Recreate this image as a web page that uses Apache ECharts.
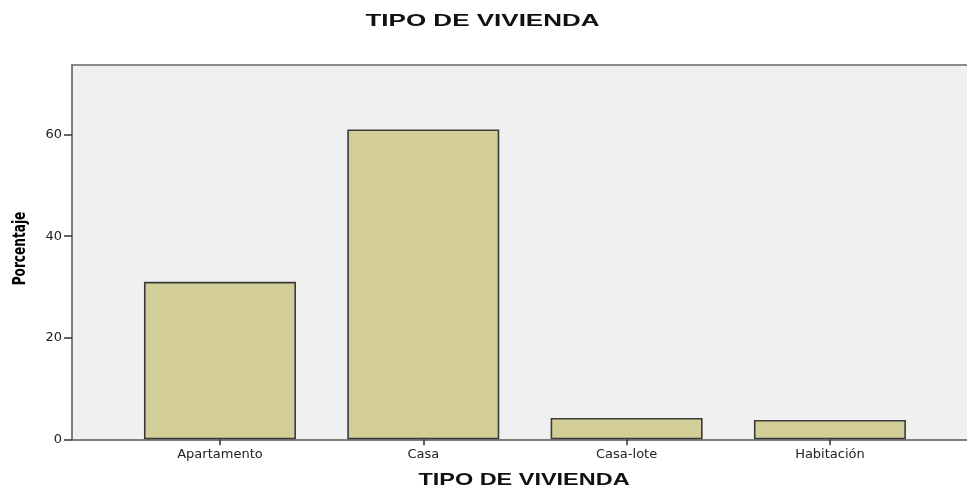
<!DOCTYPE html>
<html>
<head>
<meta charset="utf-8">
<script src="https://cdn.jsdelivr.net/npm/echarts@6/dist/echarts.min.js"></script>
<style>html,body{margin:0;padding:0;background:#fff}#c{width:967px;height:486px}</style>
</head>
<body>
<div id="c"></div>
<script>
const categories = ['Apartamento', 'Casa', 'Casa-lote', 'Habitación'];
const percentages = [31.0, 61.0, 4.2, 3.8];
const yTicks = [0, 20, 40, 60];
const chartTitle = 'TIPO DE VIVIENDA';
const xTitle = 'TIPO DE VIVIENDA';
const yTitle = 'Porcentaje';

const yMax = 73.7;
const chart = echarts.init(document.getElementById('c'), null, {renderer: 'canvas'});
const labelFont = {fontFamily: 'DejaVu Sans', fontSize: 13, color: '#222'};
chart.setOption({
  animation: false,
  backgroundColor: '#ffffff',
  graphic: [
    {type: 'text', x: 482.5, y: 21.5, scaleX: 1.53, style: {text: chartTitle, font: 'bold 17px "Liberation Sans"', fill: '#111', textAlign: 'center', textVerticalAlign: 'middle'}},
    {type: 'text', x: 524, y: 480, scaleX: 1.38, style: {text: xTitle, font: 'bold 17px "Liberation Sans"', fill: '#111', textAlign: 'center', textVerticalAlign: 'middle'}},
    {type: 'text', x: 21, y: 248.5, rotation: Math.PI / 2, scaleY: 1.25, style: {text: yTitle, font: 'bold 13.5px "DejaVu Sans Condensed", "DejaVu Sans"', fill: '#000', textAlign: 'center', textVerticalAlign: 'middle'}}
  ],
  grid: [
    {left: 72, top: 65, right: 0, bottom: 46.7, show: true, backgroundColor: '#f0f0f0', borderWidth: 0},
    {left: 118.3, top: 65, width: 813.3, bottom: 46.7}
  ],
  xAxis: [
    {type: 'value', gridIndex: 0, min: 0, max: 1, position: 'bottom', axisLine: {show: true, lineStyle: {color: '#555', width: 1.5}}, axisTick: {show: false}, axisLabel: {show: false}, splitLine: {show: false}},
    {type: 'value', gridIndex: 0, min: 0, max: 1, position: 'top', axisLine: {show: true, lineStyle: {color: '#666', width: 1.5}}, axisTick: {show: false}, axisLabel: {show: false}, splitLine: {show: false}},
    {type: 'category', gridIndex: 1, data: categories, axisLine: {show: false}, axisTick: {show: true, alignWithLabel: true, length: 6, lineStyle: {color: '#333', width: 1.5}}, axisLabel: Object.assign({margin: 9}, labelFont), splitLine: {show: false}}
  ],
  yAxis: [
    {type: 'value', gridIndex: 0, min: 0, max: yMax, interval: 20,
     axisLine: {show: true, lineStyle: {color: '#555', width: 1.5}},
     axisTick: {show: true, length: 8, customValues: yTicks, lineStyle: {color: '#333', width: 1.5}},
     axisLabel: Object.assign({margin: 10, customValues: yTicks}, labelFont),
     splitLine: {show: false}},
    {type: 'value', gridIndex: 1, min: 0, max: yMax, show: false}
  ],
  series: [{
    type: 'bar',
    xAxisIndex: 2,
    yAxisIndex: 1,
    data: percentages,
    barWidth: 152,
    itemStyle: {color: '#d3ce97', borderColor: '#3a3a3a', borderWidth: 1.6}
  }]
});
</script>
</body>
</html>
